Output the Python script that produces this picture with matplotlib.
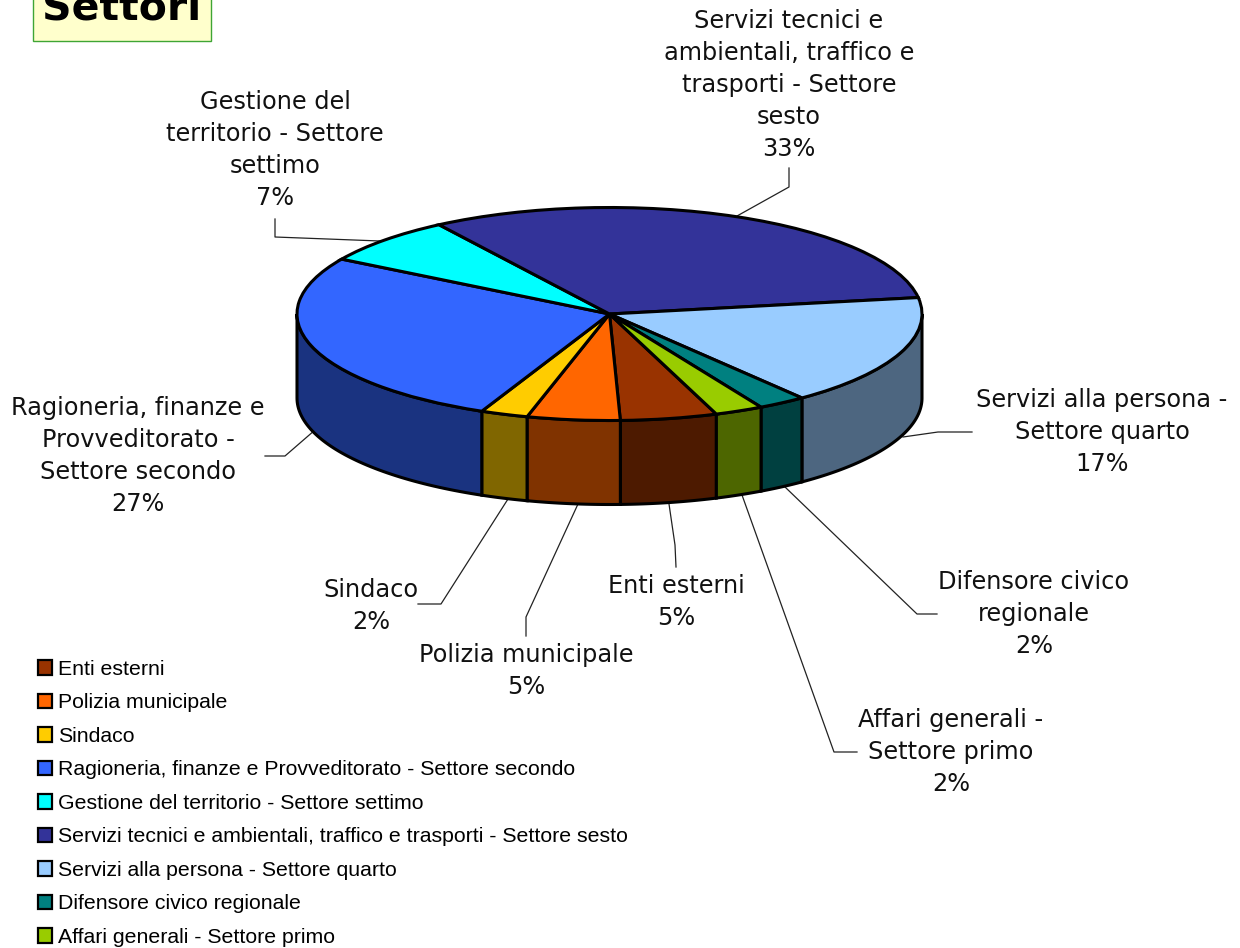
import numpy as np
import matplotlib
matplotlib.use("Agg")
import matplotlib.pyplot as plt
from matplotlib.patches import Rectangle, Polygon
from matplotlib.colors import to_rgb

categories = ["Enti esterni", "Polizia municipale", "Sindaco",
              "Ragioneria, finanze e Provveditorato - Settore secondo",
              "Gestione del territorio - Settore settimo",
              "Servizi tecnici e ambientali, traffico e trasporti - Settore sesto",
              "Servizi alla persona - Settore quarto",
              "Difensore civico regionale",
              "Affari generali - Settore primo"]
values = [5.0, 4.8, 2.45, 26.9, 7.2, 31.7, 16.9, 2.5, 2.5]
percent_labels = ["5%", "5%", "2%", "27%", "7%", "33%", "17%", "2%", "2%"]
wrapped_names = ["Enti esterni", "Polizia municipale", "Sindaco",
                 "Ragioneria, finanze e\nProvveditorato -\nSettore secondo",
                 "Gestione del\nterritorio - Settore\nsettimo",
                 "Servizi tecnici e\nambientali, traffico e\ntrasporti - Settore\nsesto",
                 "Servizi alla persona -\nSettore quarto",
                 "Difensore civico\nregionale",
                 "Affari generali -\nSettore primo"]
colors = ["#993300", "#FF6600", "#FFCC00", "#3366FF", "#00FFFF",
          "#333399", "#99CCFF", "#008080", "#99CC00"]
title = "Settori"

# layout (pixels of the 1240x948 picture)
W, H = 1240, 948
CX, CY, RX, RY, DEPTH = 609.5, 314, 312.5, 106.5, 84
label_centres = [(676, 602), (526, 671), (371, 606), (138, 456), (275, 150),
                 (789, 85), (1102, 432), (1034, 614), (951, 752)]
leaders = [[(676, 567), (675, 545), (669, 504)],
           [(526, 636), (526, 617), (578, 504)],
           [(418, 604), (441, 604), (508, 499)],
           [(265, 456), (285, 456), (315, 430)],
           [(275, 219), (275, 237), (380, 241)],
           [(789, 168), (789, 187), (737, 216)],
           [(972, 432), (938, 432), (903, 437)],
           [(937, 614), (917, 614), (785, 487)],
           [(857, 752), (834, 752), (742, 495)]]


def X(px):
    return (px - CX) / RX


def Y(py):
    return (CY - py) / RY


fig = plt.figure(figsize=(W / 100, H / 100), dpi=100, facecolor="white")
ax = fig.add_axes([0, 0, 1, 1])
wedges, _ = ax.pie(values, colors=colors, startangle=290, counterclock=False,
                   radius=1, center=(0, 0),
                   wedgeprops=dict(edgecolor="black", linewidth=2.2, zorder=5))
ax.set_aspect("auto")
ax.set_xlim(X(0), X(W))
ax.set_ylim(Y(H), Y(0))
ax.axis("off")

# side wall of the disc, from the angles of the wedges
d = DEPTH / RY
for w, c in zip(wedges, colors):
    for off in (-360, 0, 360):
        a, b = max(w.theta1 + off, 180), min(w.theta2 + off, 360)
        if b <= a:
            continue
        t = np.radians(np.linspace(a, b, 60))
        x, y = np.cos(t), np.sin(t)
        pts = np.r_[np.c_[x, y], np.c_[x[::-1], y[::-1] - d]]
        ax.add_patch(Polygon(pts, closed=True, facecolor=np.array(to_rgb(c)) * 0.5,
                             edgecolor="black", linewidth=2.2, zorder=3))

# leader lines
for line in leaders:
    xs = [X(p[0]) for p in line]
    ys = [Y(p[1]) for p in line]
    ax.plot(xs, ys, color="#222222", lw=0.9, zorder=2)

# data labels
for name, pct, (px, py) in zip(wrapped_names, percent_labels, label_centres):
    ax.text(X(px), Y(py), name + "\n" + pct, ha="center", va="center",
            fontsize=17.3, family="DejaVu Sans", color="#111111",
            linespacing=1.42, zorder=6)

# title box, cut by the top edge
ax.add_patch(Rectangle((X(33), Y(41)), X(211) - X(33), Y(-20) - Y(41),
                       facecolor="#FFFFCC", edgecolor="#3FA535", lw=1.0, zorder=6))
ax.text(X(122), Y(20), title, ha="center", va="baseline", fontsize=29.5,
        family="DejaVu Sans", weight="bold", color="black", zorder=7)

# legend
leg = ax.legend(wedges, categories, loc="upper left",
                bbox_to_anchor=(38 / W, 1 - 660 / H), frameon=False,
                prop=dict(family="Liberation Sans", size=15.35),
                handlelength=0.66, handleheight=0.66, handletextpad=0.3,
                labelspacing=0.68, borderaxespad=0, borderpad=0)
for h in leg.get_patches():
    h.set_linewidth(1.6)

fig.savefig("out.png", dpi=100, facecolor="white")
